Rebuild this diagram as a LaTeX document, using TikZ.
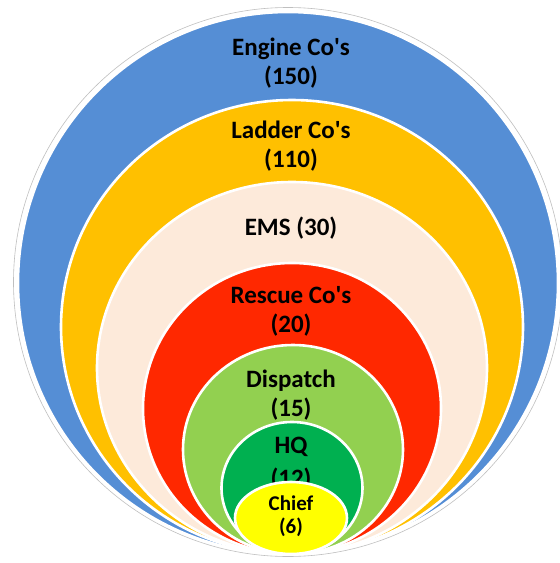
\documentclass[tikz,border=0pt]{standalone}
\usepackage{fontspec}
\setmainfont{Carlito}
\usetikzlibrary{positioning}
\definecolor{engineblue}{HTML}{558ED5}
\definecolor{ladderyellow}{HTML}{FFC000}
\definecolor{emspeach}{HTML}{FDEADA}
\definecolor{rescuered}{HTML}{FF2800}
\definecolor{dispatchgreen}{HTML}{92D050}
\definecolor{hqgreen}{HTML}{00B050}
\definecolor{chiefyellow}{HTML}{FFFF00}
\newcommand{\apos}{\textquotesingle}

\begin{document}
\begin{tikzpicture}[x=1pt,y=-1pt,
	ring/.style={draw=white,line width=2.6pt},
	lbl/.style={align=center,text=black,font=\fontsize{25}{29}\selectfont\bfseries},
	smalllbl/.style={align=center,text=black,font=\fontsize{21}{23}\selectfont\bfseries}]
	\useasboundingbox (0,0) rectangle (560,563);
	% outer frame, then the rings from the outside in
	\draw [gray!50,line width=0.6pt,fill=white] (288,282) circle (274.5pt);
	\draw [ring,fill=engineblue] (288,283) ellipse (270pt and 271pt);
	\draw [ring,fill=ladderyellow] (292,327) ellipse (231pt and 227pt);
	\draw [ring,fill=emspeach] (292,368) ellipse (195pt and 186pt);
	\draw [ring,fill=rescuered] (292,408.5) ellipse (149pt and 145.5pt);
	\draw [ring,fill=dispatchgreen] (293,449.5) ellipse (110pt and 104.5pt);
	\draw [ring,fill=hqgreen] (292,488) ellipse (70.5pt and 66pt);
	\node [lbl,font=\fontsize{25}{33}\selectfont\bfseries] (hq) at (291,464) {HQ\\(12)};
	\draw [ring,fill=chiefyellow] (291,518) ellipse (56pt and 36pt);
	% labels
	\node [lbl] (engine) at (291,63) {Engine Co\apos s\\(150)};
	\node [lbl] (ladder) at (291,146) {Ladder Co\apos s\\(110)};
	\node [lbl] (ems) at (291,228) {EMS (30)};
	\node [lbl] (rescue) at (291,311) {Rescue Co\apos s\\(20)};
	\node [lbl] (dispatch) at (291,395) {Dispatch\\(15)};
	\node [smalllbl] (chief) at (291,516.5) {Chief\\(6)};
\end{tikzpicture}
\end{document}
